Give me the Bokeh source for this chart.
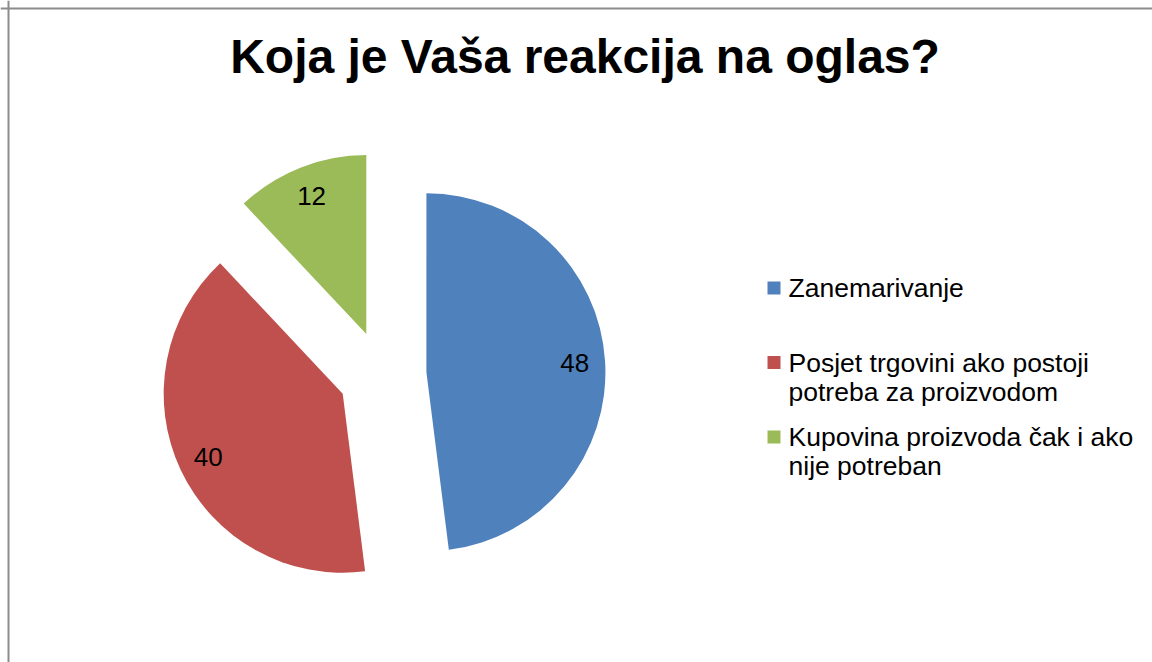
import math
from bokeh.plotting import figure
from bokeh.models import ColumnDataSource, Range1d, Span
from bokeh.core.properties import value
from bokeh.embed import file_html
from bokeh.resources import INLINE

# ---- data ----
title_text = "Koja je Vaša reakcija na oglas?"
categories = [
    "Zanemarivanje",
    "Posjet trgovini ako postoji\npotreba za proizvodom",
    "Kupovina proizvoda čak i ako\nnije potreban",
]
values = [48, 40, 12]
colors = ["#4F81BD", "#C0504D", "#9BBB59"]

# ---- layout constants (pixels; data units == screen pixels) ----
W, H = 1152, 662
cx, cy = 382, 287.5        # pie centre
R = 179                    # radius
EXPLODE = 44               # explosion offset
LABEL_FRAC = 0.83
FONT = "Liberation Sans"

p = figure(width=W, height=H, x_range=Range1d(0, W), y_range=Range1d(0, H),
           output_backend="svg", toolbar_location=None,
           x_axis_location=None, y_axis_location=None, min_border=0)
p.grid.visible = False
p.outline_line_color = None
p.background_fill_color = "white"
p.border_fill_color = "white"

total = sum(values)
xs, ys, starts, ends, lx, ly = [], [], [], [], [], []
acc = 0.0
for v in values:
    t1 = acc / total * 360.0          # clockwise from 12 o'clock
    t2 = (acc + v) / total * 360.0
    tm = math.radians((t1 + t2) / 2)
    ox = cx + EXPLODE * math.sin(tm)
    oy = cy + EXPLODE * math.cos(tm)
    xs.append(ox)
    ys.append(oy)
    starts.append(math.radians(90 - t2))
    ends.append(math.radians(90 - t1))
    lx.append(ox + LABEL_FRAC * R * math.sin(tm))
    ly.append(oy + LABEL_FRAC * R * math.cos(tm))
    acc += v

src = ColumnDataSource(dict(x=xs, y=ys, start=starts, end=ends, color=colors,
                            lx=lx, ly=ly, lab=[str(v) for v in values]))
p.wedge(x="x", y="y", radius=R, start_angle="start", end_angle="end",
        fill_color="color", line_color=None, source=src)
p.text(x="lx", y="ly", text="lab", source=src, text_align="center",
       text_baseline="middle", text_font=value(FONT), text_font_size="26px",
       text_color="black")

# title
p.text(x=[584.5], y=[606.5], text=[title_text], text_align="center",
       text_baseline="middle", text_font=value(FONT),
       text_font_size="48px", text_font_style="bold", text_color="black")

# legend (manual, to match the original layout)
LEG_SQ_X = 773.5
LEG_TOP = 374.5
LEG_STEP = 74.5
LEG_TEXT_X = 788
LINE_H = 29
sq_y, tx, ty, tt = [], [], [], []
for i, lab in enumerate(categories):
    yc = LEG_TOP - i * LEG_STEP
    sq_y.append(yc)
    for j, line in enumerate(lab.split("\n")):
        tx.append(LEG_TEXT_X)
        ty.append(yc - j * LINE_H)
        tt.append(line)
p.rect(x=[LEG_SQ_X] * len(categories), y=sq_y, width=13, height=13,
       fill_color=colors, line_color=None)
p.text(x=tx, y=ty, text=tt, text_align="left", text_baseline="middle",
       text_font=value(FONT), text_font_size="26.5px", text_color="black")

# chart border (only left and top edges visible in the crop)
p.add_layout(Span(location=8, dimension="height", line_color="#8C8C8C", line_width=2))
p.add_layout(Span(location=H - 8, dimension="width", line_color="#8C8C8C", line_width=2))

open("out.html", "w").write(file_html(p, INLINE))
